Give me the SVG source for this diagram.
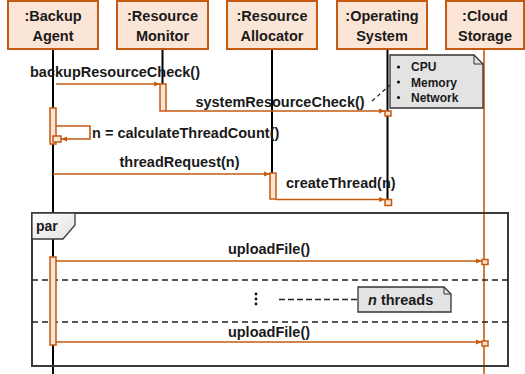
<svg xmlns="http://www.w3.org/2000/svg" width="525" height="374" viewBox="0 0 525 374">
<style>
text{font-family:"Liberation Sans",Arial,sans-serif;font-weight:bold;fill:#1a1a1a}
.hd{font-size:14.5px;text-anchor:middle}
.lbl{font-size:14.5px}
.mid{text-anchor:middle}
.box{fill:#FBE5D6;stroke:#C55A11;stroke-width:2}
.life{stroke:#000;stroke-width:2}
.msg{stroke:#C55A11;stroke-width:1.6;fill:none}
.act{fill:#FBE5D6;stroke:#C55A11;stroke-width:1.5}
.note{fill:#E3E3E3;stroke:#333;stroke-width:1.3}
.dash{stroke:#222;stroke-width:1.4;stroke-dasharray:6,4}
</style>
<defs>
<marker id="ah" viewBox="0 0 6 6" refX="6" refY="3" markerWidth="6" markerHeight="6" markerUnits="userSpaceOnUse" orient="auto">
<path d="M0,0.5 L6,3 L0,5.5 z" fill="#C55A11"/>
</marker>
<linearGradient id="tab" x1="0" y1="0" x2="1" y2="1">
<stop offset="0" stop-color="#ffffff"/>
<stop offset="1" stop-color="#e2e2e2"/>
</linearGradient>
</defs>
<rect width="525" height="374" fill="#fff"/>

<g id="lifelines">
<line class="life" x1="53" y1="49" x2="53" y2="374"/>
<line class="life" x1="162.5" y1="49" x2="162.5" y2="84"/>
<line class="life" x1="272" y1="49" x2="272" y2="173"/>
<line class="life" x1="387.5" y1="49" x2="387.5" y2="206"/>
<line x1="484" y1="49" x2="484" y2="374" stroke="#C55A11" stroke-width="1.6"/>
</g>

<g id="par-frame">
<rect x="32" y="213" width="476" height="153" fill="none" stroke="#3a3a3a" stroke-width="2"/>
<path d="M32,213 H75 V225 L63,239 H32 Z" fill="url(#tab)" stroke="#3a3a3a" stroke-width="1.3"/>
<text x="36" y="231" style="font-size:14px">par</text>
<line class="dash" x1="32" y1="280" x2="508" y2="280"/>
<line class="dash" x1="32" y1="322" x2="508" y2="322"/>
</g>

<g id="backup-agent">
<rect class="box" x="8" y="1" width="90" height="48"/>
<text class="hd" x="53" y="20.5">:Backup</text>
<text class="hd" x="53" y="40.5">Agent</text>
</g>
<g id="resource-monitor">
<rect class="box" x="117" y="1" width="91" height="48"/>
<text class="hd" x="162.5" y="20.5">:Resource</text>
<text class="hd" x="162.5" y="40.5">Monitor</text>
</g>
<g id="resource-allocator">
<rect class="box" x="227" y="1" width="90" height="48"/>
<text class="hd" x="272" y="20.5">:Resource</text>
<text class="hd" x="272" y="40.5">Allocator</text>
</g>
<g id="operating-system">
<rect class="box" x="337" y="1" width="90" height="48"/>
<text class="hd" x="382" y="20.5">:Operating</text>
<text class="hd" x="382" y="40.5">System</text>
</g>
<g id="cloud-storage">
<rect class="box" x="446" y="1" width="78" height="48"/>
<text class="hd" x="485" y="20.5">:Cloud</text>
<text class="hd" x="485" y="40.5">Storage</text>
</g>

<g id="activations">
<rect class="act" x="160" y="84" width="6" height="27"/>
<rect class="act" x="50" y="108" width="6" height="36"/>
<rect class="act" x="270" y="173" width="6" height="26"/>
<rect class="act" x="50" y="257" width="6" height="88"/>
</g>

<g id="connectors">
<line class="msg" x1="56" y1="84" x2="160" y2="84" marker-end="url(#ah)"/>
<line class="msg" x1="166" y1="111" x2="385" y2="111" marker-end="url(#ah)"/>
<rect class="act" x="385" y="111" width="6" height="5"/>
<polyline class="msg" points="56,126 90,126 90,139 61,139" marker-end="url(#ah)"/>
<rect class="act" x="53" y="136" width="8" height="6"/>
<line class="msg" x1="53" y1="174" x2="270" y2="174" marker-end="url(#ah)"/>
<line class="msg" x1="276" y1="199.5" x2="385" y2="199.5" marker-end="url(#ah)"/>
<rect class="act" x="385" y="199.5" width="6.5" height="6"/>
<line class="msg" x1="56" y1="261" x2="482" y2="261" marker-end="url(#ah)"/>
<rect class="act" x="482" y="259.5" width="6" height="5"/>
<line class="msg" x1="56" y1="342" x2="482" y2="342" marker-end="url(#ah)"/>
<rect class="act" x="482" y="341" width="6" height="5"/>
<line x1="372" y1="101" x2="390" y2="85" stroke="#222" stroke-width="1.2" stroke-dasharray="4,3"/>
<line x1="279" y1="299.5" x2="358" y2="299.5" stroke="#222" stroke-width="1.3" stroke-dasharray="6,3"/>
</g>

<g id="labels">
<text class="lbl mid" x="115" y="77">backupResourceCheck()</text>
<text class="lbl mid" x="280" y="107">systemResourceCheck()</text>
<text class="lbl" x="92" y="138">n = calculateThreadCount()</text>
<text class="lbl mid" x="179.5" y="167">threadRequest(n)</text>
<text class="lbl" x="286" y="188">createThread(n)</text>
<text class="lbl mid" x="269" y="254">uploadFile()</text>
<text class="lbl mid" x="269" y="337">uploadFile()</text>
<circle cx="256" cy="294" r="1.4" fill="#111"/>
<circle cx="256" cy="299" r="1.4" fill="#111"/>
<circle cx="256" cy="304" r="1.4" fill="#111"/>
</g>

<g id="note-resources">
<path class="note" d="M390,55 H474 L483,64 V108 H390 Z"/>
<path d="M474,55 V64 H483" fill="none" stroke="#333" stroke-width="1"/>
<circle cx="398.5" cy="67" r="1.6" fill="#111"/>
<circle cx="398.5" cy="82" r="1.6" fill="#111"/>
<circle cx="398.5" cy="97.5" r="1.6" fill="#111"/>
<text x="411" y="71" style="font-size:12px">CPU</text>
<text x="411" y="86.5" style="font-size:12px">Memory</text>
<text x="411" y="102" style="font-size:12px">Network</text>
</g>

<g id="note-threads">
<path class="note" d="M358,287 H444 L451,294 V312 H358 Z"/>
<path d="M444,287 V294 H451" fill="none" stroke="#333" stroke-width="1"/>
<text x="368" y="305" style="font-size:14.5px"><tspan font-style="italic">n</tspan> threads</text>
</g>
</svg>
